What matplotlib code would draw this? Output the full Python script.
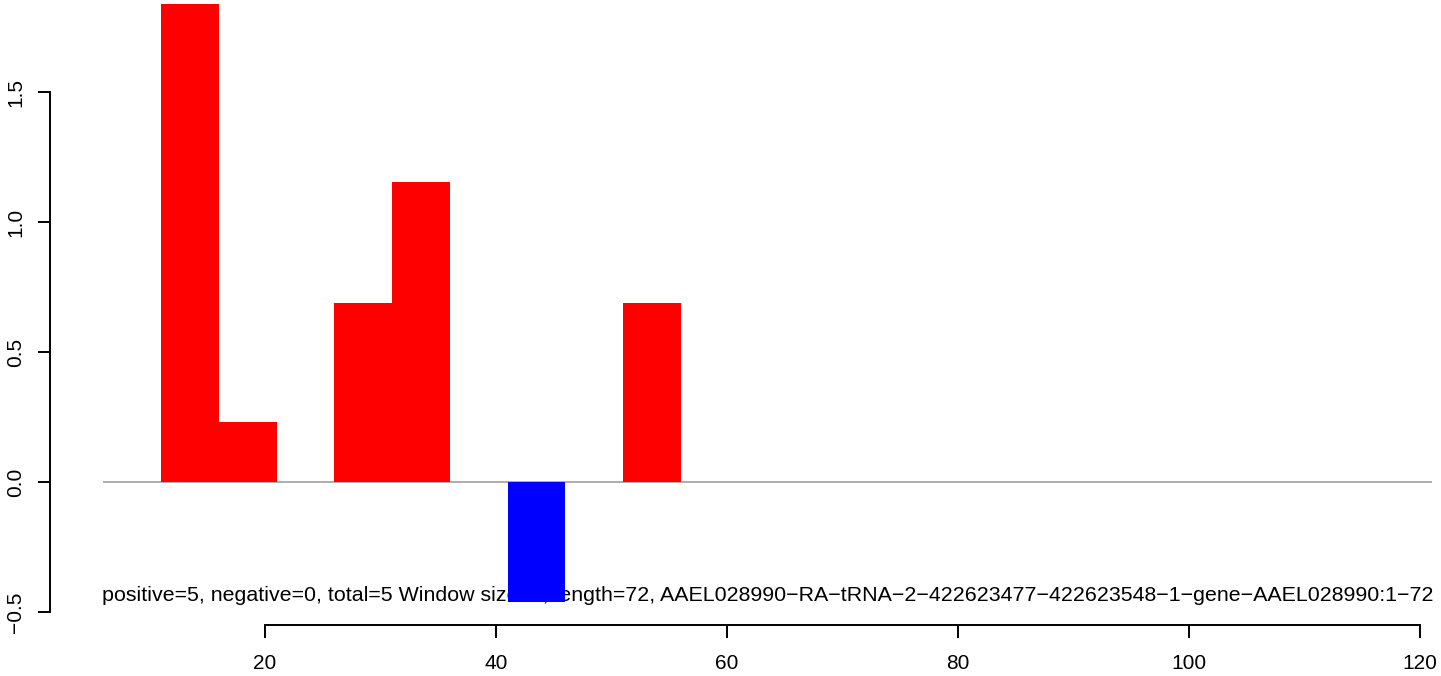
import matplotlib
matplotlib.use("Agg")
import matplotlib.pyplot as plt

# window starts (bar left edges), window size and per-window scores
window_starts = [11, 16, 26, 31, 41, 51]
window_size = 5
scores = [1.84, 0.23, 0.69, 1.155, -0.46, 0.69]
x_ticks = [20, 40, 60, 80, 100, 120]
y_ticks = [-0.5, 0.0, 0.5, 1.0, 1.5]
seq_span = (6, 121)
caption = ("positive=5, negative=0, total=5 Window size=5, length=72, "
           "AAEL028990\u2212RA\u2212tRNA\u22122\u2212422623477\u2212422623548\u22121\u2212gene\u2212AAEL028990:1\u221272")

plt.rcParams["font.family"] = ["Liberation Sans", "DejaVu Sans"]

W, H = 1441, 676
fig = plt.figure(figsize=(W / 100, H / 100), dpi=100)
# plot region in pixels: left 50, right 1441, top 0, bottom 625
ax = fig.add_axes([50 / W, (H - 625) / H, (W - 50) / W, 625 / H])
ax.set_xlim((50 - 34) / 11.55, (W - 34) / 11.55)
ax.set_ylim(-(625 - 482) / 260, 482 / 260)

ax.text(sum(seq_span) / 2, -0.458, caption, ha="center", va="baseline", fontsize=15.4, zorder=1)
ax.hlines(0, *seq_span, color="#a0a0a0", lw=1.2, zorder=2)
colors = ["red" if s >= 0 else "blue" for s in scores]
ax.bar(window_starts, scores, width=window_size, align="edge", color=colors, zorder=3)

for s in ["top", "right"]:
    ax.spines[s].set_visible(False)
ax.spines["left"].set_bounds(y_ticks[0], y_ticks[-1])
ax.spines["bottom"].set_bounds(x_ticks[0], x_ticks[-1])
ax.spines["left"].set_linewidth(1.4)
ax.spines["bottom"].set_linewidth(1.4)
ax.set_xticks(x_ticks)
ax.set_yticks(y_ticks)
ax.set_yticklabels([f"{v:.1f}".replace("-", "\u2212") for v in y_ticks], rotation=90, va="center")
ax.tick_params(axis="both", direction="out", length=9, width=1.4, labelsize=15)
ax.tick_params(axis="x", pad=12)
ax.tick_params(axis="y", pad=9)

fig.savefig("out.png", dpi=100)
